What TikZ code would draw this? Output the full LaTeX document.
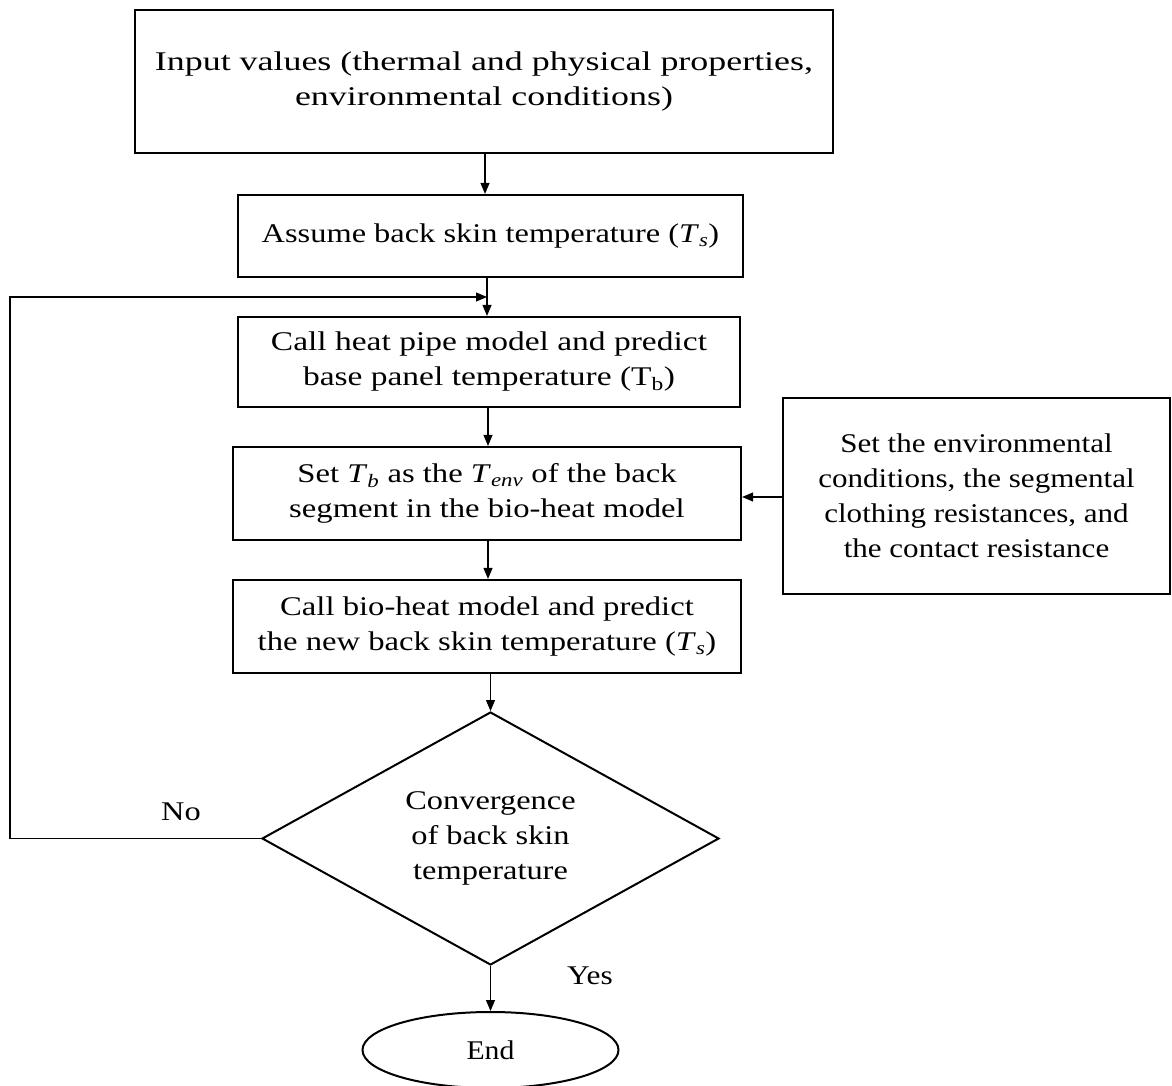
\documentclass[tikz,border=0pt]{standalone}
\usepackage{fontspec}
\setmainfont{Liberation Serif}
\usetikzlibrary{arrows.meta,shapes.geometric}
\newcommand{\Tsub}[1]{\textit{T}\textsubscript{\textit{#1}}}
\newcommand{\wfont}[1]{\fontsize{27}{35}\selectfont\addfontfeatures{FakeStretch=#1}}
\begin{document}
\begin{tikzpicture}[x=1pt,y=-1pt,
  box/.style={draw,line width=2.2pt,rectangle,inner sep=0pt,align=center},
  conn/.style={line width=1.1pt,-{Triangle[length=11pt,width=9pt]}},
  lbl/.style={inner sep=0pt}]
\useasboundingbox (0,0) rectangle (1172,1086);
\node[box,minimum width=698pt,minimum height=143pt,font=\wfont{1.33}] (b1) at (484,81.5)
  {Input values (thermal and physical properties,\\environmental conditions)};
\node[box,minimum width=505pt,minimum height=82pt,font=\wfont{1.2}] (b2) at (490.5,236)
  {Assume back skin temperature (\Tsub{s})};
\node[box,minimum width=502pt,minimum height=90pt,font=\wfont{1.24}] (b3) at (489,362)
  {Call heat pipe model and predict\\base panel temperature (T\textsubscript{b})};
\node[box,minimum width=508pt,minimum height=93pt,font=\wfont{1.21}] (b4) at (487,493.5)
  {Set \Tsub{b} as the \Tsub{env} of the back\\segment in the bio-heat model};
\node[box,minimum width=387pt,minimum height=196pt,font=\wfont{1.15}] (b5) at (976.5,496)
  {Set the environmental\\conditions, the segmental\\clothing resistances, and\\the contact resistance};
\node[box,minimum width=508pt,minimum height=93pt,font=\wfont{1.21}] (b6) at (487,626.5)
  {Call bio-heat model and predict\\the new back skin temperature (\Tsub{s})};
\node[box,line width=2pt,shape=diamond,aspect=1.8,minimum width=457pt,minimum height=253pt,font=\wfont{1.2}] (d) at (490.5,838.5)
  {Convergence\\of back skin\\temperature};
\node[box,line width=2pt,shape=ellipse,minimum width=256pt,minimum height=76pt,font=\wfont{1.1}] (e) at (490.5,1050) {End};
\coordinate (loopin) at (487,297);
\coordinate (c1) at (10,838.5);
\coordinate (c2) at (10,297);
\node[lbl,font=\wfont{1.2}] (no) at (181,812) {No};
\node[lbl,font=\wfont{1.16}] (yes) at (590,976) {Yes};
\draw[conn] (b1.south -| 485,0) -- (b2.north -| 485,0);
\draw[conn] (b2.south -| 487,0) -- (b3.north -| 487,0);
\draw[conn] (b3.south -| 488,0) -- (b4.north -| 488,0);
\draw[conn] (b4.south -| 488,0) -- (b6.north -| 488,0);
\draw[conn] (b6.south -| d.north) -- (d.north);
\draw[conn] (d.south) -- (e.north);
\draw[conn] (b5.west |- 0,497) -- (b4.east |- 0,497);
\draw[line width=1.1pt] (d.west) -- (c1) -- (c2) -- ++(10,0);
\draw[conn] (c2) -- (loopin);
\end{tikzpicture}
\end{document}
